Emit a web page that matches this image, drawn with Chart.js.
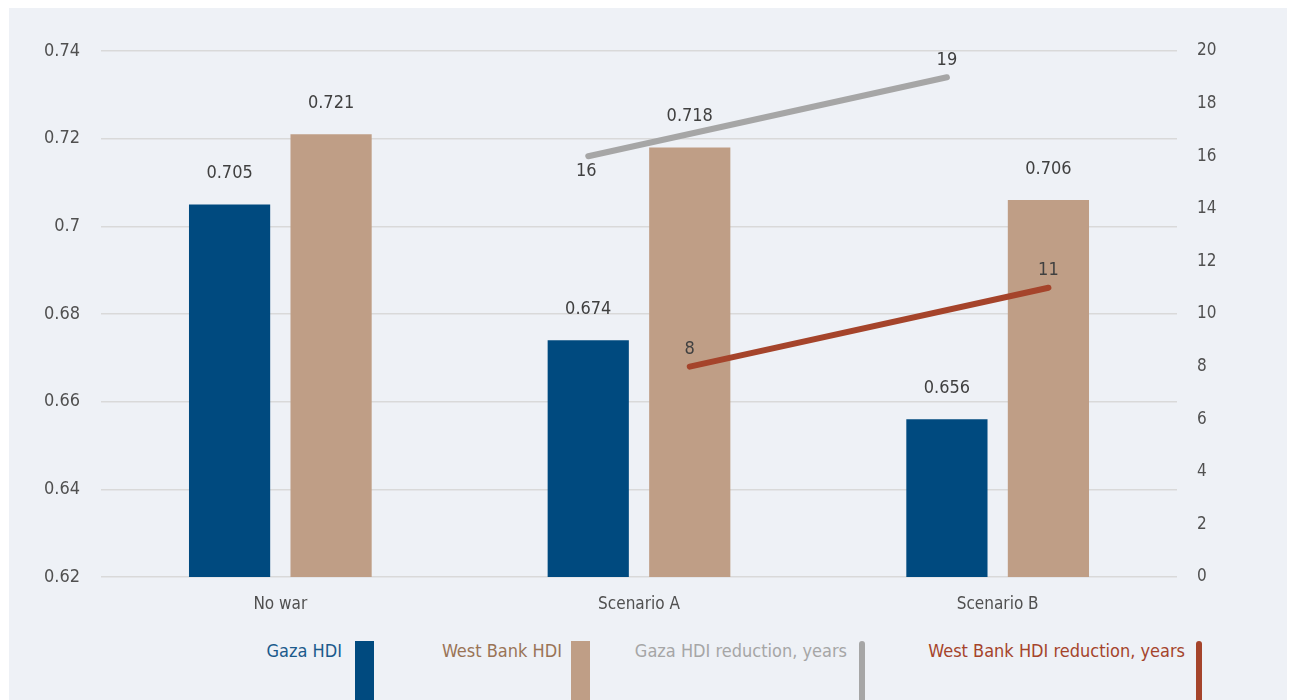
<!DOCTYPE html>
<html lang="en">
<head>
  <meta charset="UTF-8" />
  <title>HDI scenarios</title>
  <script src="https://cdn.jsdelivr.net/npm/chart.js"></script>
  <style>
    body { margin: 0; background: #fff; width: 1293px; height: 700px; overflow: hidden; }
    #panel { position: absolute; left: 9px; top: 8px; width: 1278px; height: 692px; background: #eef1f6; overflow: hidden; }
    #wrap { position: absolute; left: 0; top: 0; width: 1278px; height: 620px; }
    .lg { position: absolute; top: 632px; font: 18px 'Liberation Sans Narrow', 'DejaVu Sans Condensed', sans-serif; white-space: nowrap; }
    .sw { position: absolute; top: 633px; height: 80px; }
  </style>
</head>
<body>
  <div id="panel">
    <div id="wrap"><canvas id="chart"></canvas></div>
    <!-- legend: text followed by swatch -->
    <span class="lg" style="right:945px;color:#1b5a8c">Gaza HDI</span>
    <div class="sw" style="left:346px;width:19px;background:#004a7f"></div>
    <span class="lg" style="right:725px;color:#9a7456">West Bank HDI</span>
    <div class="sw" style="left:562px;width:19px;background:#bf9e86"></div>
    <span class="lg" style="right:440px;color:#a6a6a6">Gaza HDI reduction, years</span>
    <div class="sw" style="left:850px;width:6px;border-radius:3px;background:#a6a6a6"></div>
    <span class="lg" style="right:102px;color:#a5442b">West Bank HDI reduction, years</span>
    <div class="sw" style="left:1187px;width:6px;border-radius:3px;background:#a5442b"></div>
  </div>

  <script>
    const categories = ['No war', 'Scenario A', 'Scenario B'];
    const gazaHdi = [0.705, 0.674, 0.656];
    const westBankHdi = [0.721, 0.718, 0.706];
    const gazaYears = [null, 16, 19];
    const westBankYears = [null, 8, 11];

    const FONT = "'Liberation Sans Narrow', 'DejaVu Sans Condensed', sans-serif";

    // move each line's points over the matching bar of the same group
    const alignLines = {
      id: 'alignLines',
      afterDatasetsUpdate(chart) {
        chart.data.datasets.forEach((ds, i) => {
          if (ds.barRef === undefined) return;
          const bars = chart.getDatasetMeta(ds.barRef).data;
          chart.getDatasetMeta(i).data.forEach((pt, j) => { pt.x = bars[j].x; });
        });
      }
    };

    const valueLabels = {
      id: 'valueLabels',
      afterDatasetsDraw(chart) {
        const c = chart.ctx;
        c.save();
        c.font = '18px ' + FONT;
        c.fillStyle = '#404040';
        c.textAlign = 'center';
        c.textBaseline = 'middle';
        chart.data.datasets.forEach((ds, i) => {
          const meta = chart.getDatasetMeta(i);
          meta.data.forEach((el, j) => {
            const v = ds.data[j];
            if (v === null) return;
            if (ds.type === 'line') {
              const pos = ds.labelPos[j];
              const dy = pos === 'below' ? 15 : -17;
              c.fillText(String(v), el.x - (pos === 'below' ? 2 : 0), el.y + dy);
            } else {
              c.fillText(v.toFixed(3), el.x, el.y - 31);
            }
          });
        });
        c.restore();
      }
    };

    new Chart(document.getElementById('chart'), {
      data: {
        labels: categories,
        datasets: [
          { type: 'line', label: 'Gaza HDI reduction, years', data: gazaYears, yAxisID: 'y2', barRef: 2,
            borderColor: '#a6a6a6', borderWidth: 6, borderCapStyle: 'round', pointRadius: 0, labelPos: [null, 'below', 'above'], order: 0 },
          { type: 'line', label: 'West Bank HDI reduction, years', data: westBankYears, yAxisID: 'y2', barRef: 3,
            borderColor: '#a5442b', borderWidth: 6, borderCapStyle: 'round', pointRadius: 0, labelPos: [null, 'above', 'above'], order: 0 },
          { type: 'bar', label: 'Gaza HDI', data: gazaHdi, yAxisID: 'y', backgroundColor: '#004a7f', order: 1,
            categoryPercentage: 0.566, barPercentage: 0.8 },
          { type: 'bar', label: 'West Bank HDI', data: westBankHdi, yAxisID: 'y', backgroundColor: '#bf9e86', order: 1,
            categoryPercentage: 0.566, barPercentage: 0.8 }
        ]
      },
      options: {
        responsive: true,
        maintainAspectRatio: false,
        animation: false,
        layout: { padding: { top: 43, left: 0, right: 0, bottom: 0 } },
        plugins: { legend: { display: false }, tooltip: { enabled: false } },
        scales: {
          x: {
            grid: { display: false },
            border: { display: false },
            ticks: { color: '#505050', font: { family: FONT, size: 17 }, padding: 9 },
            afterFit(s) { s.height = 51; }
          },
          y: {
            position: 'left',
            min: 0.62, max: 0.74,
            ticks: { stepSize: 0.02, color: '#505050', font: { family: FONT, size: 18 }, padding: 21,
                     callback: v => String(parseFloat(v.toFixed(2))) },
            grid: { color: '#d9d9d9', lineWidth: 1.6, drawTicks: false },
            border: { display: false },
            afterFit(s) { s.width = 92; }
          },
          y2: {
            position: 'right',
            min: 0, max: 20,
            ticks: { stepSize: 2, color: '#505050', font: { family: FONT, size: 17 }, padding: 20 },
            grid: { display: false, drawTicks: false },
            border: { display: false },
            afterFit(s) { s.width = 110; }
          }
        }
      },
      plugins: [alignLines, valueLabels]
    });
  </script>
</body>
</html>
